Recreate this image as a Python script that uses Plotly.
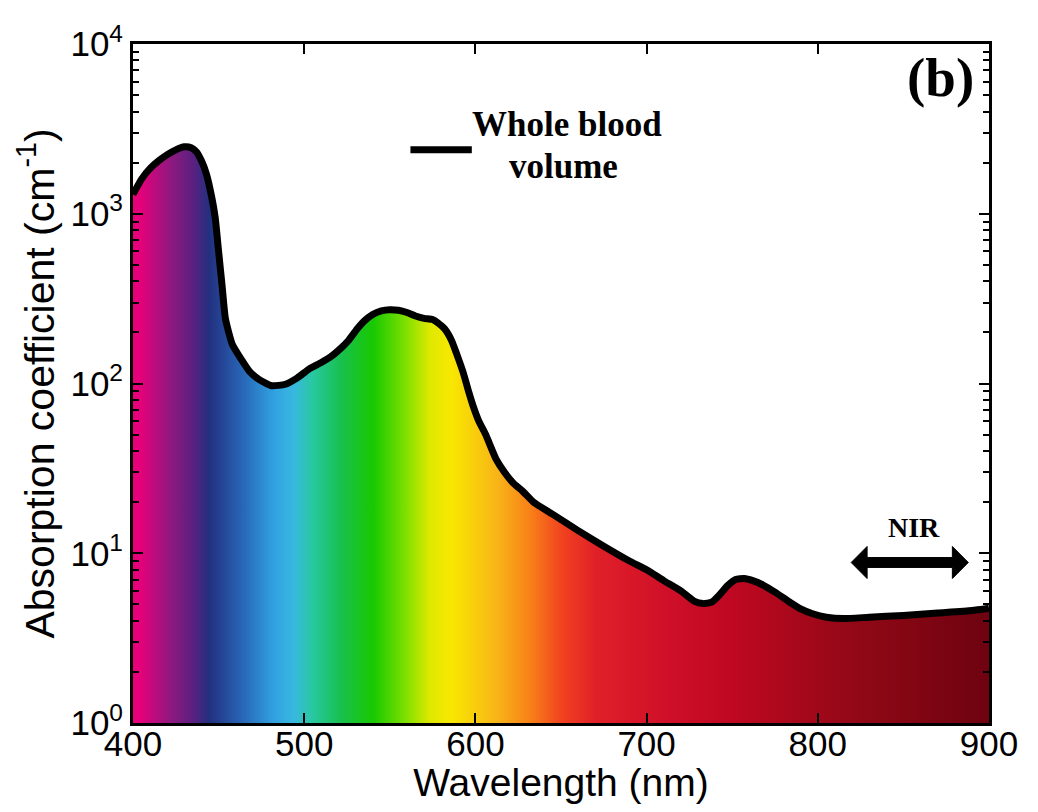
import plotly.graph_objects as go

# ---- data ----
wavelength_nm = [400, 405, 410, 415, 420, 425, 430, 434, 437, 440, 443, 446, 448, 450, 452,
                 454, 458, 463, 468, 474, 481, 489, 496, 503, 510, 516, 521, 526, 531, 535,
                 540, 545, 550, 555, 560, 565, 570, 575, 578, 582, 586, 589, 593, 596, 599,
                 602, 606, 612, 617, 622, 628, 634, 645, 660, 675, 690, 700, 710, 720, 728,
                 733, 738, 742, 747, 752, 757, 762, 768, 775, 783, 790, 797, 805, 815, 830,
                 850, 870, 890, 900]
absorption = [1300, 1600, 1850, 2050, 2230, 2380, 2480, 2450, 2320, 2050, 1700, 1250, 950, 600, 380,
              240, 170, 140, 118, 105, 97, 99, 108, 122, 133, 145, 160, 180, 210, 233,
              255, 268, 272, 270, 262, 250, 242, 238, 228, 210, 180, 150, 115, 90, 72,
              60, 50, 36, 30, 26, 23, 20, 17, 13.6, 11, 9.0, 8.0, 6.9, 6.0, 5.2,
              5.05, 5.15, 5.6, 6.4, 7.0, 7.1, 6.9, 6.5, 5.9, 5.2, 4.7, 4.4, 4.2, 4.12, 4.2,
              4.3, 4.45, 4.6, 4.75]

x_ticks = [400, 500, 600, 700, 800, 900]
y_ticks = [1, 10, 100, 1000, 10000]
y_tick_text = ["10<sup>0</sup>", "10<sup>1</sup>", "10<sup>2</sup>", "10<sup>3</sup>", "10<sup>4</sup>"]
X_MIN, X_MAX = 400, 900
Y_MIN = 1

# spectrum colours across the wavelength range (nm, colour)
spectrum_nm = [400, 404, 423, 435, 444, 464, 481, 493, 504, 520, 539, 558, 572, 584, 611, 630,
               649, 668, 707, 745, 822, 900]
spectrum_col = ["#e6007a", "#e6007a", "#8a1a80", "#5a2080", "#22307f", "#2868b8", "#30a0e0",
                "#38b8e0", "#28c8a0", "#18c050", "#18c800", "#80e000", "#e0e800", "#f8e800",
                "#f8b418", "#f88018", "#f04020", "#e02028", "#d01028", "#c00822", "#900815",
                "#6c0210"]
colorscale = [[(w - X_MIN) / (X_MAX - X_MIN), c] for w, c in zip(spectrum_nm, spectrum_col)]

fig = go.Figure()

# gradient filled area under the curve
fig.add_trace(go.Scatter(
    x=wavelength_nm + [X_MAX, X_MIN],
    y=absorption + [Y_MIN, Y_MIN],
    mode="lines", fill="toself",
    line=dict(width=0, color="rgba(0,0,0,0)"),
    fillgradient=dict(type="horizontal", colorscale=colorscale, start=X_MIN, stop=X_MAX),
    hoverinfo="skip", showlegend=False,
))
# black outline
fig.add_trace(go.Scatter(
    x=wavelength_nm, y=absorption, mode="lines",
    line=dict(color="black", width=7, shape="spline", smoothing=0.5),
    showlegend=False,
))

tick_font = dict(family="Liberation Sans, Arial", size=35, color="black")
xtitle_font = dict(family="Liberation Sans, Arial", size=39, color="black")
ytitle_font = dict(family="Liberation Sans, Arial", size=41, color="black")
fig.update_xaxes(
    range=[X_MIN, X_MAX], tickvals=x_ticks, ticks="inside", ticklen=10, tickwidth=2,
    tickcolor="black", showline=True, linewidth=3, linecolor="black", mirror="ticks",
    showgrid=False, zeroline=False, tickfont=tick_font, ticklabelstandoff=-12,
    title=dict(text="Wavelength (nm)", font=xtitle_font, standoff=0),
)
fig.update_yaxes(
    type="log", range=[0, 4], tickvals=y_ticks, ticktext=y_tick_text, ticks="inside",
    ticklen=10, tickwidth=2, tickcolor="black", showline=True, linewidth=3,
    linecolor="black", mirror="ticks", showgrid=False, zeroline=False, tickfont=tick_font,
    minor=dict(ticks="inside", ticklen=6, tickwidth=2, tickcolor="black", dtick="D1", showgrid=False),
    title=dict(text="Absorption coefficient (cm<sup>-1</sup>)", font=ytitle_font, standoff=4),
)

serif = "Liberation Serif, Times New Roman"
# legend-like key
fig.add_shape(type="line", xref="paper", yref="paper", x0=0.3241, x1=0.3958, y0=0.8443, y1=0.8443,
              line=dict(color="black", width=7))
fig.add_annotation(xref="paper", yref="paper", x=0.507, y=0.882, text="<b>Whole blood</b>",
                   xanchor="center", yanchor="middle",
                   showarrow=False, font=dict(family=serif, size=35, color="black"))
fig.add_annotation(xref="paper", yref="paper", x=0.503, y=0.82, text="<b>volume</b>",
                   xanchor="center", yanchor="middle",
                   showarrow=False, font=dict(family=serif, size=35, color="black"))
# panel label
fig.add_annotation(xref="paper", yref="paper", x=0.943, y=0.95, text="<b>(b)</b>",
                   xanchor="center", yanchor="middle",
                   showarrow=False, font=dict(family=serif, size=55, color="black"))
# NIR double arrow
fig.add_shape(type="path", xref="paper", yref="paper",
              path="M 0.8390 0.2364 L 0.8576 0.2600 L 0.8576 0.2437 L 0.9572 0.2437 "
                   "L 0.9572 0.2600 L 0.9758 0.2364 L 0.9572 0.2128 L 0.9572 0.2291 "
                   "L 0.8576 0.2291 L 0.8576 0.2128 Z",
              fillcolor="black", line=dict(color="black", width=1))
fig.add_annotation(xref="paper", yref="paper", x=0.912, y=0.2878, text="<b>NIR</b>",
                   xanchor="center", yanchor="middle",
                   showarrow=False, font=dict(family=serif, size=28, color="black"))

# the page body has an 8px margin, so the figure is sized to fit inside the window
fig.update_layout(
    width=1022, height=796,
    margin=dict(l=125, r=33, t=34, b=81),
    plot_bgcolor="white", paper_bgcolor="white",
    showlegend=False,
)
fig.write_html("out.html")
